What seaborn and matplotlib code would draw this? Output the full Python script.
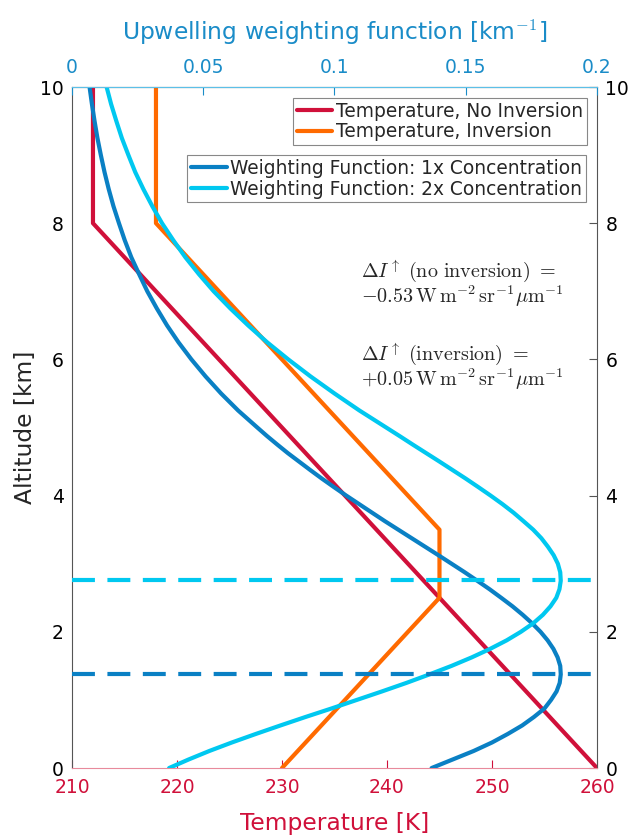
import numpy as np
import pandas as pd
import seaborn as sns
from matplotlib import pyplot as plt
from matplotlib.lines import Line2D

# temperature profiles [K] vs altitude [km]
alt_no_inv = [0, 8, 10]
temp_no_inv = [260, 212, 212]
alt_inv = [0, 2.5, 3.5, 8, 10]
temp_inv = [230, 245, 245, 218, 218]

# weighting functions [km^-1]
alt_wf = [0, 0.125, 0.25, 0.375, 0.5, 0.625, 0.75, 0.875, 1.0, 1.125, 1.25, 1.375, 1.5,
          1.625, 1.75, 1.875, 2.0, 2.125, 2.25, 2.375, 2.5, 2.625, 2.75, 2.875, 3.0, 3.125,
          3.25, 3.375, 3.5, 3.625, 3.75, 3.875, 4.0, 4.125, 4.25, 4.375, 4.5, 4.625, 4.75,
          4.875, 5.0, 5.25, 5.5, 5.75, 6.0, 6.25, 6.5, 6.75, 7.0, 7.25, 7.5, 7.75, 8.0, 8.25,
          8.5, 8.75, 9.0, 9.25, 9.5, 9.75, 10.0]
wf_1x = [0.137, 0.145, 0.153, 0.160, 0.166, 0.1715, 0.176, 0.180, 0.1825, 0.1846, 0.1858,
         0.1862, 0.1860, 0.1850, 0.1834, 0.1812, 0.1785, 0.1753, 0.1717, 0.1678, 0.1635,
         0.1591, 0.1544, 0.1496, 0.1446, 0.1396, 0.1345, 0.1294, 0.1243, 0.1192, 0.1143,
         0.1094, 0.1045, 0.0998, 0.0952, 0.0908, 0.0865, 0.0822, 0.0782, 0.0743, 0.0706,
         0.0633, 0.0568, 0.0509, 0.0455, 0.0406, 0.0362, 0.0323, 0.0287, 0.0256, 0.0226,
         0.0201, 0.0179, 0.0158, 0.0140, 0.0124, 0.0110, 0.0097, 0.0086, 0.0076, 0.0067]
wf_2x = [0.037, 0.0444, 0.0523, 0.0609, 0.0700, 0.0794, 0.0890, 0.0989, 0.1085, 0.1181,
         0.1274, 0.1362, 0.1446, 0.1523, 0.1593, 0.1656, 0.1710, 0.1757, 0.1794, 0.1823,
         0.1845, 0.1857, 0.1862, 0.1860, 0.1851, 0.1835, 0.1813, 0.1788, 0.1757, 0.1720,
         0.1682, 0.1640, 0.1595, 0.1548, 0.1500, 0.1450, 0.1400, 0.1349, 0.1298, 0.1248,
         0.1197, 0.1095, 0.100, 0.0909, 0.0824, 0.0744, 0.0671, 0.0603, 0.0540, 0.0484,
         0.0432, 0.0386, 0.0343, 0.0306, 0.0272, 0.0241, 0.0215, 0.0190, 0.0169, 0.0149,
         0.0132]
peak_alt = [1.38, 2.76]

labels_temp = ["Temperature, No Inversion", "Temperature, Inversion"]
labels_wf = ["Weighting Function: 1x Concentration", "Weighting Function: 2x Concentration"]
notes = [r"$\Delta I^{\uparrow}\ \mathrm{(no\ inversion)}\ =$" + "\n" +
         r"$-0.53\,\mathrm{W\,m^{-2}\,sr^{-1}}\mu\mathrm{m}^{-1}$",
         r"$\Delta I^{\uparrow}\ \mathrm{(inversion)}\ =$" + "\n" +
         r"$+0.05\,\mathrm{W\,m^{-2}\,sr^{-1}}\mu\mathrm{m}^{-1}$"]
note_alt = [7.12, 5.9]

RED = "#d0103a"
ORANGE = "#ff6a00"
DBLUE = "#0a80c4"
LBLUE = "#00c8f0"
AXBLUE = "#1a8cc8"

sns.set_style("white")
plt.rcParams["font.family"] = ["DejaVu Sans"]
plt.rcParams["mathtext.fontset"] = "cm"

df_temp = pd.concat([
    pd.DataFrame({"alt": alt_no_inv, "temp": temp_no_inv, "profile": labels_temp[0]}),
    pd.DataFrame({"alt": alt_inv, "temp": temp_inv, "profile": labels_temp[1]}),
])
df_wf = pd.concat([
    pd.DataFrame({"alt": alt_wf, "wf": wf_1x, "profile": labels_wf[0]}),
    pd.DataFrame({"alt": alt_wf, "wf": wf_2x, "profile": labels_wf[1]}),
])

fig = plt.figure(figsize=(6.33, 8.35), dpi=100)
ax = fig.add_axes([0.1137, 0.0802, 0.8294, 0.8156])

sns.lineplot(data=df_temp, x="temp", y="alt", hue="profile", palette=[RED, ORANGE],
             estimator=None, sort=False, lw=3, legend=False, ax=ax)
ax.set_xlim(210, 260)
ax.set_ylim(0, 10)
ax.set_xticks(np.arange(210, 261, 10))
ax.set_yticks(np.arange(0, 11, 2))
ax.set_xlabel("Temperature [K]", color=RED, fontsize=16.8, labelpad=11)
ax.set_ylabel("Altitude [km]", fontsize=16.8, labelpad=2)
ax.tick_params(axis="x", colors=RED, direction="in", length=6, labelsize=13.5, pad=7)
ax.tick_params(axis="y", direction="in", length=6, labelsize=13.5, right=True, labelright=True,
               colors="black", pad=6)
ax.tick_params(axis="y", which="both", color="#555555")
ax.spines["bottom"].set_color("#e88a9c")
for s in ["left", "right"]:
    ax.spines[s].set_color("#555555")
    ax.spines[s].set_linewidth(0.8)

ax2 = ax.twiny()
sns.lineplot(data=df_wf, x="wf", y="alt", hue="profile", palette=[DBLUE, LBLUE],
             estimator=None, sort=False, lw=3, legend=False, ax=ax2)
for a, c in zip(peak_alt, [DBLUE, LBLUE]):
    ax2.axhline(a, color=c, lw=3, dashes=(5.5, 3))
ax2.set_xlim(0, 0.2)
ax2.set_ylim(0, 10)
ax2.set_xticks([0, 0.05, 0.1, 0.15, 0.2])
ax2.set_xticklabels(["0", "0.05", "0.1", "0.15", "0.2"])
ax2.set_xlabel("Upwelling weighting function [km$^{-1}$]", color=AXBLUE, fontsize=16.8,
               labelpad=13)
ax2.tick_params(axis="x", colors=AXBLUE, direction="in", length=6, labelsize=13.5, pad=7)
ax2.spines["top"].set_color("#5cc0e8")
ax2.spines["bottom"].set_visible(False)
for s in ["left", "right"]:
    ax2.spines[s].set_visible(False)

for txt, y in zip(notes, note_alt):
    ax.text(237.5, y, txt, fontsize=14.5, va="center", ha="left", linespacing=0.95)

h_temp = [Line2D([], [], color=c, lw=3) for c in [RED, ORANGE]]
h_wf = [Line2D([], [], color=c, lw=3) for c in [DBLUE, LBLUE]]
leg_kw = dict(fontsize=13.4, fancybox=False, edgecolor="#888888", framealpha=1,
              handlelength=1.9, handletextpad=0.2, borderpad=0.2, labelspacing=0.1,
              borderaxespad=0)
leg1 = ax2.legend(h_temp, labels_temp, loc="upper right", bbox_to_anchor=(0.981, 0.984), **leg_kw)
leg1.get_frame().set_linewidth(0.8)
ax2.add_artist(leg1)
leg2 = ax2.legend(h_wf, labels_wf, loc="upper right", bbox_to_anchor=(0.979, 0.900), **leg_kw)
leg2.get_frame().set_linewidth(0.8)

fig.savefig("out.png", dpi=100)
